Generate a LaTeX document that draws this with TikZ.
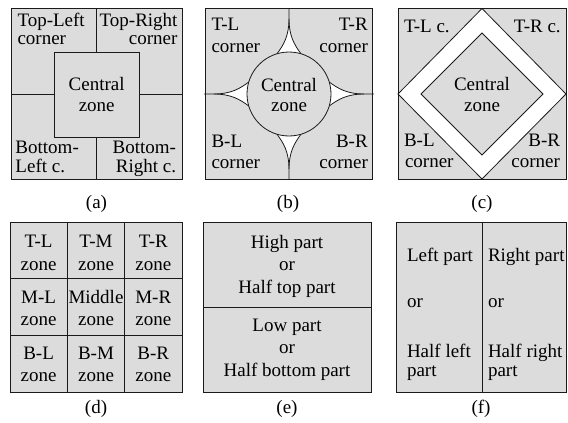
\documentclass[tikz,border=0pt]{standalone}
\usepackage{fontspec}
\setmainfont{Liberation Serif}
\definecolor{zonegray}{HTML}{DCDCDC}
\definecolor{inkline}{HTML}{1A1A1A}
\tikzset{
  txt/.style={inner sep=0pt, outer sep=0pt, font=\fontsize{19}{22}\selectfont, text=black},
  frame/.style={draw=inkline, line width=1pt},
  divline/.style={draw=inkline, line width=0.8pt},
  zonefill/.style={fill=zonegray},
}
\begin{document}
\begin{tikzpicture}[x=1pt,y=-1pt]
\useasboundingbox (0,0) rectangle (568,423);
% ---------- (a)
\fill[zonegray] (11,8.5) rectangle (182,179);
\draw[divline] (96.7,8.5) -- (96.7,179);
\draw[divline] (11,94.3) -- (182,94.3);
\filldraw[zonefill, divline] (54,52) rectangle (139,137);
\draw[frame] (11,8.5) rectangle (182,179);
\node[txt, anchor=base west] (a1) at (17.5,26.5) {Top-Left};
\node[txt, anchor=base west] (a2) at (17.5,44.5) {corner};
\node[txt, anchor=base east] (a3) at (177.5,26.5) {Top-Right};
\node[txt, anchor=base east] (a4) at (177.5,44.5) {corner};
\node[txt, anchor=base] (a5) at (96.7,90.7) {Central};
\node[txt, anchor=base] (a6) at (96.7,111.7) {zone};
\node[txt, anchor=base west] (a7) at (15.5,153.5) {Bottom-};
\node[txt, anchor=base west] (a8) at (15.5,172) {Left c.};
\node[txt, anchor=base east] (a9) at (176,153.5) {Bottom-};
\node[txt, anchor=base east] (a10) at (176,172) {Right c.};
\node[txt, anchor=base] (la) at (96.5,208) {(a)};
% ---------- (b)
\fill[zonegray] (205,8.5) rectangle (372,179);
\foreach \ang in {0,90,180,270}{
  \begin{scope}[shift={(289,94)}, rotate=\ang]
    \fill[white] (0,-75) .. controls (0,-58) and (-5.5,-49) .. (-12,-40.2)
      -- (12,-40.2) .. controls (5.5,-49) and (0,-58) .. (0,-75) -- cycle;
    \draw[divline] (0,-85) -- (0,-75) .. controls (0,-58) and (-5.5,-49) .. (-12,-40.2);
    \draw[divline] (0,-75) .. controls (0,-58) and (5.5,-49) .. (12,-40.2);
  \end{scope}
}
\filldraw[zonefill, divline] (289,94) circle[radius=42];
\draw[frame] (205,8.5) rectangle (372,179);
\node[txt, anchor=base west] (b1) at (211.5,30.5) {T-L};
\node[txt, anchor=base west] (b2) at (211.5,52) {corner};
\node[txt, anchor=base east] (b3) at (367.7,30.5) {T-R};
\node[txt, anchor=base east] (b4) at (368,52) {corner};
\node[txt, anchor=base] (b5) at (289,91.7) {Central};
\node[txt, anchor=base] (b6) at (289,111.7) {zone};
\node[txt, anchor=base west] (b7) at (211.5,147) {B-L};
\node[txt, anchor=base west] (b8) at (211.5,168.3) {corner};
\node[txt, anchor=base east] (b9) at (367.7,147) {B-R};
\node[txt, anchor=base east] (b10) at (368,168.3) {corner};
\node[txt, anchor=base] (lb) at (288,208) {(b)};
% ---------- (c)
\fill[zonegray] (398,8.5) rectangle (566,179);
\filldraw[fill=white, divline] (482,8.5) -- (566,94) -- (482,179) -- (398,94) -- cycle;
\filldraw[zonefill, divline] (482,33) -- (543,94) -- (482,155) -- (421,94) -- cycle;
\draw[frame] (398,8.5) rectangle (566,179);
\node[txt, anchor=base west] (c1) at (404,32) {T-L c.};
\node[txt, anchor=base east] (c2) at (560.7,32) {T-R c.};
\node[txt, anchor=base] (c3) at (482,90.7) {Central};
\node[txt, anchor=base] (c4) at (482,111) {zone};
\node[txt, anchor=base west] (c5) at (404,146.7) {B-L};
\node[txt, anchor=base west] (c6) at (405,167.7) {corner};
\node[txt, anchor=base east] (c7) at (560,146.7) {B-R};
\node[txt, anchor=base east] (c8) at (560,167.7) {corner};
\node[txt, anchor=base] (lc) at (482,208) {(c)};
% ---------- (d)
\fill[zonegray] (10,222) rectangle (182,392);
\draw[divline] (67.3,222) -- (67.3,392);
\draw[divline] (124.7,222) -- (124.7,392);
\draw[divline] (10,278.7) -- (182,278.7);
\draw[divline] (10,335.3) -- (182,335.3);
\draw[frame] (10,222) rectangle (182,392);
\node[txt, anchor=base] (d1) at (38.6,247) {T-L};
\node[txt, anchor=base] (d2) at (38.6,270) {zone};
\node[txt, anchor=base] (d3) at (96,247) {T-M};
\node[txt, anchor=base] (d4) at (96,270) {zone};
\node[txt, anchor=base] (d5) at (153.3,247) {T-R};
\node[txt, anchor=base] (d6) at (153.3,270) {zone};
\node[txt, anchor=base] (d7) at (38.6,303) {M-L};
\node[txt, anchor=base] (d8) at (38.6,325) {zone};
\node[txt, anchor=base] (d9) at (96,303) {Middle};
\node[txt, anchor=base] (d10) at (96,325) {zone};
\node[txt, anchor=base] (d11) at (153.3,303) {M-R};
\node[txt, anchor=base] (d12) at (153.3,325) {zone};
\node[txt, anchor=base] (d13) at (38.6,359.5) {B-L};
\node[txt, anchor=base] (d14) at (38.6,381) {zone};
\node[txt, anchor=base] (d15) at (96,359.5) {B-M};
\node[txt, anchor=base] (d16) at (96,381) {zone};
\node[txt, anchor=base] (d17) at (153.3,359.5) {B-R};
\node[txt, anchor=base] (d18) at (153.3,381) {zone};
\node[txt, anchor=base] (ld) at (96,413) {(d)};
% ---------- (e)
\fill[zonegray] (203,222) rectangle (371,392);
\draw[divline] (203,307) -- (371,307);
\draw[frame] (203,222) rectangle (371,392);
\node[txt, anchor=base] (e1) at (287,248.3) {High part};
\node[txt, anchor=base] (e2) at (287,270) {or};
\node[txt, anchor=base] (e3) at (287,293.3) {Half top part};
\node[txt, anchor=base] (e4) at (287,331.7) {Low part};
\node[txt, anchor=base] (e5) at (287,353.3) {or};
\node[txt, anchor=base] (e6) at (287,376.7) {Half bottom part};
\node[txt, anchor=base] (le) at (287,413) {(e)};
% ---------- (f)
\fill[zonegray] (396,222) rectangle (566,392);
\draw[divline] (482,222) -- (482,392);
\draw[frame] (396,222) rectangle (566,392);
\node[txt, anchor=base west] (f1) at (407,261) {Left part};
\node[txt, anchor=base west] (f2) at (407,307) {or};
\node[txt, anchor=base west] (f3) at (407,357) {Half left};
\node[txt, anchor=base west] (f4) at (407,376) {part};
\node[txt, anchor=base west] (f5) at (488,261) {Right part};
\node[txt, anchor=base west] (f6) at (488,307) {or};
\node[txt, anchor=base west] (f7) at (488,357) {Half right};
\node[txt, anchor=base west] (f8) at (488,376) {part};
\node[txt, anchor=base] (lf) at (481,413) {(f)};
\end{tikzpicture}
\end{document}
